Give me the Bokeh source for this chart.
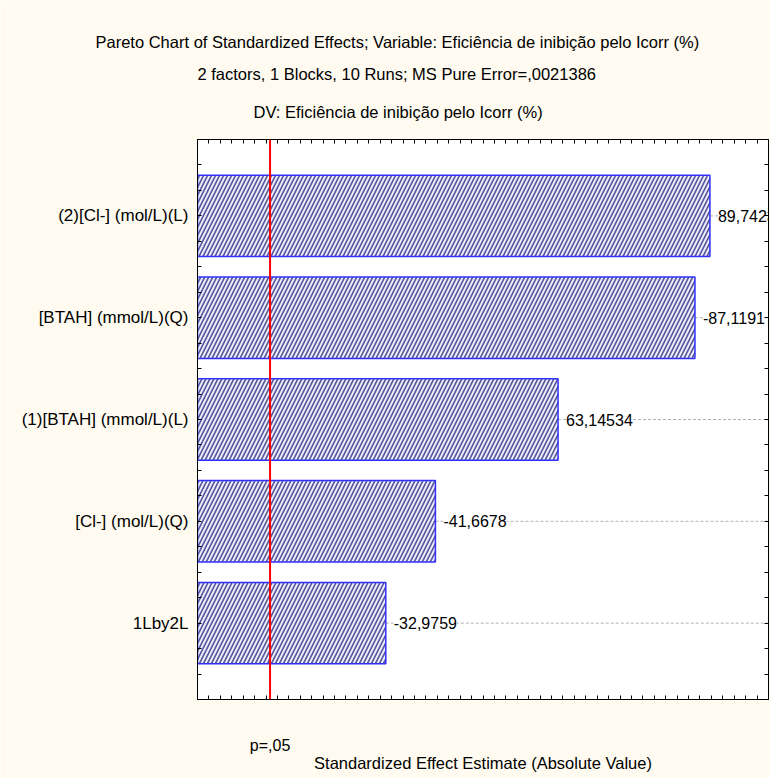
import numpy as np
from bokeh.plotting import figure
from bokeh.models import FixedTicker, LinearAxis, Span, ColumnDataSource, Title
from bokeh.core.properties import value
from bokeh.embed import file_html
from bokeh.resources import INLINE

# ---- data ----
factors = ["(2)[Cl-] (mol/L)(L)", "[BTAH] (mmol/L)(Q)", "(1)[BTAH] (mmol/L)(L)",
           "[Cl-] (mol/L)(Q)", "1Lby2L"]
effects = [89.7423, -87.1191, 63.14534, -41.6678, -32.9759]
effect_labels = ["89,7423", "-87,1191", "63,14534", "-41,6678", "-32,9759"]
p_crit = 12.706
p_label = "p=,05"
title_lines = [
    "Pareto Chart of Standardized Effects; Variable: Eficiência de inibição pelo Icorr (%)",
    "2 factors, 1 Blocks, 10 Runs; MS Pure Error=,0021386",
    "DV: Eficiência de inibição pelo Icorr (%)",
]
x_title = "Standardized Effect Estimate (Absolute Value)"

FONT = "Liberation Sans"
CREAM = "#fffbf0"

n = len(factors)
ys = [float(n - i) for i in range(n)]
absvals = [abs(v) for v in effects]
src = ColumnDataSource(dict(y=ys, x=absvals, lab=effect_labels,
                            xend=[100.0] * n))

p = figure(width=770, height=778, x_range=(0, 100), y_range=(0.25, 5.75),
           output_backend="svg", toolbar_location=None,
           min_border_left=197, min_border_right=2,
           min_border_top=139, min_border_bottom=79)
p.background_fill_color = "white"
p.border_fill_color = CREAM
p.outline_line_color = "black"
p.xgrid.visible = False
p.ygrid.visible = False

xt_vals = [float(v) for v in np.arange(0, 101, 2)]
yt_vals = [float(v) for v in np.arange(0.25, 5.76, 0.25)]


def style_axis(ax, ticks, fs="16px"):
    ax.ticker = FixedTicker(ticks=ticks)
    ax.major_tick_in = 4
    ax.major_tick_out = 0
    ax.minor_tick_in = 0
    ax.minor_tick_out = 0
    ax.axis_line_color = "black"
    ax.major_tick_line_color = "black"
    ax.major_label_text_font = FONT
    ax.major_label_text_font_size = fs
    ax.major_label_text_color = "black"


# bottom axis: only the p=,05 label
for ax in p.xaxis:
    style_axis(ax, xt_vals + [p_crit])
    ov = {t: "" for t in xt_vals}
    ov[p_crit] = p_label
    ax.major_label_overrides = ov
    ax.major_label_standoff = 37
    ax.axis_label = x_title
    ax.axis_label_text_font = FONT
    ax.axis_label_text_font_size = "16.5px"
    ax.axis_label_text_font_style = "normal"
    ax.axis_label_text_color = "black"
    ax.axis_label_standoff = -3

# left axis: factor names at bar centres
for ax in p.yaxis:
    style_axis(ax, yt_vals, "17px")
    ov = {t: "" for t in yt_vals}
    for yy, f in zip(ys, factors):
        ov[yy] = f
    ax.major_label_overrides = ov
    ax.major_label_standoff = 9

top = LinearAxis()
style_axis(top, xt_vals)
top.major_label_overrides = {t: "" for t in xt_vals}
top.major_label_standoff = 10
p.add_layout(top, "above")

right = LinearAxis()
style_axis(right, yt_vals)
right.major_label_overrides = {t: "" for t in yt_vals}
right.major_label_standoff = 0
p.add_layout(right, "right")

# titles (nearest to plot first), left aligned with offsets so they centre near x=397
TFS = "16.5px"
for t, so, off in zip([title_lines[2], title_lines[1]], [37, 0], [56, 0]):
    p.add_layout(Title(text=t, align="left", offset=off, standoff=so,
                       text_font=FONT, text_font_size=TFS, text_font_style="normal",
                       text_color="black"), "above")
p.title.text = title_lines[0]
p.title.align = "left"
p.title.offset = -102
p.title.standoff = 23
p.title.text_font = FONT
p.title.text_font_size = TFS
p.title.text_font_style = "normal"
p.title.text_color = "black"

p.segment(x0="x", x1="xend", y0="y", y1="y", source=src,
          line_color="#b0b0b0", line_dash="3 2", line_width=1)

p.hbar(y="y", left=0, right="x", height=0.8, source=src,
       fill_color="#ececfa", line_color="#3030ff", line_width=1.5,
       hatch_pattern="/", hatch_color="#52529a", hatch_scale=8, hatch_weight=1.6)

p.text(x="x", y="y", text="lab", source=src, x_offset=8,
       text_baseline="middle", text_align="left",
       text_font=value(FONT), text_font_size="16px", text_color="black",
       background_fill_color="white")

p.add_layout(Span(location=p_crit, dimension="height", line_color="red", line_width=2))

open("out.html", "w").write(file_html(p, INLINE))
